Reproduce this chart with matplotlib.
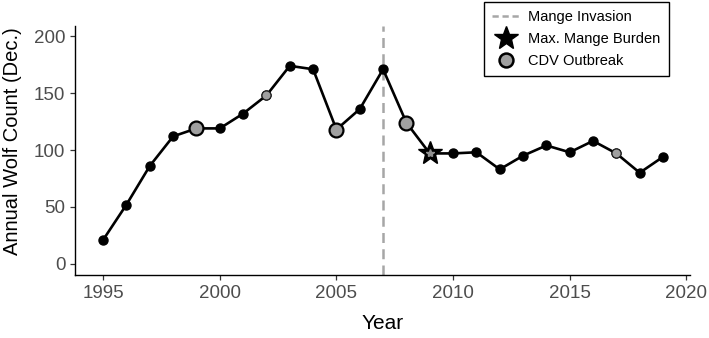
import matplotlib
matplotlib.use("Agg")
import matplotlib.pyplot as plt
from matplotlib.lines import Line2D

years = list(range(1995, 2020))
counts = [21, 52, 86, 112, 119, 119, 132, 148, 174, 171, 118, 136, 171,
          124, 97, 97, 98, 83, 95, 104, 98, 108, 97, 80, 94]
cdv_major_years = [1999, 2005, 2008]
cdv_minor_years = [2002, 2017]
max_mange_year = 2009
mange_invasion_year = 2007

yticks = [0, 50, 100, 150, 200]
xticks = [1995, 2000, 2005, 2010, 2015, 2020]

plt.rcParams['font.family'] = ['Liberation Sans', 'DejaVu Sans']

fig = plt.figure(figsize=(7.09, 3.38), dpi=100)
ax = fig.add_axes([0.106, 0.186, 0.867, 0.737])

ax.axvline(mange_invasion_year, color='#a6a6a6', lw=1.8, ls=(0, (4, 2.5)), zorder=1)
ax.plot(years, counts, color='black', lw=1.9, marker='o', ms=6.5,
        mfc='black', mec='black', zorder=2)

lookup = dict(zip(years, counts))
ax.plot(cdv_major_years, [lookup[y] for y in cdv_major_years], ls='none', marker='o',
        ms=10, mfc='#a0a0a0', mec='black', mew=1.6, zorder=3)
ax.plot(cdv_minor_years, [lookup[y] for y in cdv_minor_years], ls='none', marker='o',
        ms=6.5, mfc='#a0a0a0', mec='#222222', mew=0.8, zorder=3)
ax.plot([max_mange_year], [lookup[max_mange_year]], ls='none', marker='*', ms=18,
        mfc='black', mec='black', zorder=4)
ax.plot([max_mange_year], [lookup[max_mange_year]], ls='none', marker='*', ms=6,
        mfc='#909090', mec='#909090', zorder=5)

ax.set_xlim(1993.8, 2020.15)
ax.set_ylim(-10, 209)
ax.set_xticks(xticks)
ax.set_yticks(yticks)
ax.tick_params(labelsize=13.5, labelcolor='#4d4d4d', color='#333333', length=3.5, width=0.9)
for s in ['top', 'right']:
    ax.spines[s].set_visible(False)
for s in ['left', 'bottom']:
    ax.spines[s].set_linewidth(1.0)
ax.set_xlabel('Year', fontsize=15, labelpad=9)
ax.set_ylabel('Annual Wolf Count (Dec.)', fontsize=14.5)
ax.yaxis.set_label_coords(-0.086, 0.538)

handles = [
    Line2D([], [], color='#a6a6a6', lw=1.8, ls=(0, (2.5, 1.5))),
    Line2D([], [], ls='none', marker='*', ms=18, mfc='black', mec='black'),
    Line2D([], [], ls='none', marker='o', ms=10, mfc='#a0a0a0', mec='black', mew=1.8),
]
leg = fig.legend(handles, ['Mange Invasion', 'Max. Mange Burden', 'CDV Outbreak'],
                 loc='upper right', bbox_to_anchor=(0.943, 0.993), fontsize=10.5,
                 frameon=True, fancybox=False, edgecolor='black', framealpha=1,
                 handlelength=1.9, handletextpad=0.6, borderpad=0.55, labelspacing=0.55,
                 borderaxespad=0)
leg.get_frame().set_linewidth(1.0)

fig.savefig('out.png', dpi=100)
